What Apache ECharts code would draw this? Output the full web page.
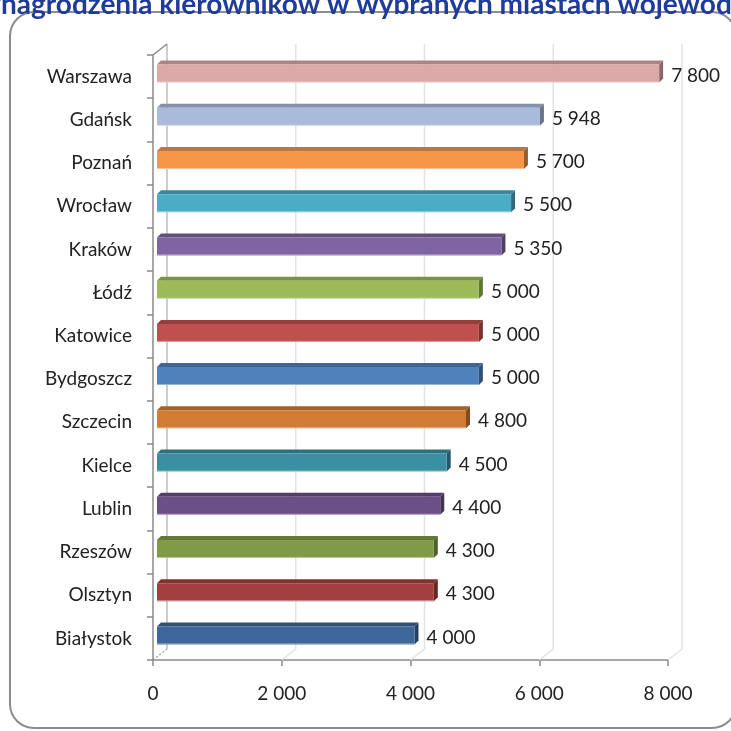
<!DOCTYPE html>
<html>
<head>
<meta charset="utf-8">
<script src="https://cdn.jsdelivr.net/npm/echarts@6/dist/echarts.min.js"></script>
<style>html,body{margin:0;padding:0;background:#fff;}#c{width:731px;height:731px;}</style>
</head>
<body>
<div id="c"></div>
<script>
// ---- data ----
const titleText = 'Wynagrodzenia kierowników w wybranych miastach wojewódzkich';
const cities = ['Warszawa','Gdańsk','Poznań','Wrocław','Kraków','Łódź','Katowice','Bydgoszcz','Szczecin','Kielce','Lublin','Rzeszów','Olsztyn','Białystok'];
const salaries = [7800,5948,5700,5500,5350,5000,5000,5000,4800,4500,4400,4300,4300,4000];
const xTicks = [0,2000,4000,6000,8000];

// ---- styles ----
const barColors = ['#dba9a8','#aabadb','#f79646','#4bacc6','#8064a2','#9bbb59','#c0504d','#4f81bd','#d27b34','#3a8fa3','#6b5088','#7f9b46','#a3403d','#3e6698'];
const FONT = 'Lato';
const FS = 19;
const TITLE_FS = 28;
const DX = 14, DY = -11;

function fmt(v){ return String(v).replace(/\B(?=(\d{3})+(?!\d))/g, ' '); }
function shade(hex, f){
  const n = parseInt(hex.slice(1),16);
  let r=(n>>16)&255,g=(n>>8)&255,b=n&255;
  r=Math.round(r*f);g=Math.round(g*f);b=Math.round(b*f);
  return 'rgb('+r+','+g+','+b+')';
}

const chart = echarts.init(document.getElementById('c'), null, {renderer:'canvas'});

// measure hidden prefix of title
const cv = document.createElement('canvas').getContext('2d');
cv.font = 'bold ' + TITLE_FS + 'px ' + FONT;
const prefixW = cv.measureText('Wy').width;

const option = {
  backgroundColor: '#ffffff',
  animation: false,
  graphic: [
    {type:'rect', shape:{x:10,y:12,width:726,height:716,r:24}, style:{fill:'none', stroke:'#8c8c8c', lineWidth:2}, z:-10},
    {type:'text', x: 1 - prefixW, y: 19, style:{text:titleText, font:'bold ' + TITLE_FS + 'px ' + FONT, fill:'#1f3c9a', verticalAlign:'bottom', align:'left'}, z:10}
  ],
  grid: {left:153, right:63, top:55, bottom:71, containLabel:false},
  xAxis: {
    type:'value', min:0, max:8000, interval:2000,
    axisLine:{show:true, lineStyle:{color:'#8a8a8a', width:1.5}},
    axisTick:{show:true, length:6, lineStyle:{color:'#8a8a8a', width:1.5}},
    splitLine:{show:false},
    axisLabel:{margin:24, color:'#222', fontFamily:FONT, fontSize:FS, formatter:function(v){return fmt(v);}}
  },
  yAxis: {
    type:'category', data:cities, inverse:true,
    axisLine:{show:true, lineStyle:{color:'#8a8a8a', width:1.5}},
    axisTick:{show:true, length:6, lineStyle:{color:'#8a8a8a', width:1.5}},
    axisLabel:{margin:21, color:'#222', fontFamily:FONT, fontSize:FS}
  },
  series: [
    {
      type:'custom', z:1, silent:true, clip:false,
      data: xTicks.map(function(v){ return [v, 0]; }),
      encode:{x:0, y:1},
      renderItem:function(params, api){
        const cs = params.coordSys;
        const v = api.value(0);
        const x = api.coord([v, 0])[0];
        const yb = cs.y + cs.height, yt = cs.y;
        const children = [];
        if (v === 0){
          children.push({type:'line', shape:{x1:x+DX,y1:yb+DY,x2:x+DX,y2:yt+DY}, style:{stroke:'#bdbdbd', lineWidth:1.5}});
          children.push({type:'line', shape:{x1:x,y1:yb,x2:x+DX,y2:yb+DY}, style:{stroke:'#9a9a9a', lineWidth:1.2, lineDash:[2,2]}});
          children.push({type:'line', shape:{x1:x,y1:yt,x2:x+DX,y2:yt+DY}, style:{stroke:'#8a8a8a', lineWidth:1.5}});
        } else {
          children.push({type:'polyline', shape:{points:[[x,yb],[x+DX,yb+DY],[x+DX,yt+DY]]}, style:{stroke:'#e3e3e3', lineWidth:1.5, fill:'none'}});
        }
        return {type:'group', children:children};
      }
    },
    {
      type:'custom', z:3, clip:false,
      data: cities.map(function(c, i){ return [salaries[i], i]; }),
      encode:{x:0, y:1},
      renderItem:function(params, api){
        const i = params.dataIndex;
        const v = api.value(0);
        const p0 = api.coord([0, api.value(1)]);
        const p1 = api.coord([v, api.value(1)]);
        const x0 = p0[0] + 4, x1 = p1[0] + 4;
        const yc = p0[1] - 3;
        const h = 18, d = 4;
        const yT = yc - h/2, yB = yc + h/2;
        const col = barColors[i];
        return {type:'group', children:[
          {type:'polygon', shape:{points:[[x0,yT],[x0+d,yT-d],[x1+d,yT-d],[x1,yT]]}, style:{fill:shade(col,0.78)}},
          {type:'polygon', shape:{points:[[x1,yT],[x1+d,yT-d],[x1+d,yB-d],[x1,yB]]}, style:{fill:shade(col,0.62)}},
          {type:'rect', shape:{x:x0,y:yT,width:x1-x0,height:h}, style:{fill:col}},
          {type:'line', shape:{x1:x0,y1:yB-0.5,x2:x1,y2:yB-0.5}, style:{stroke:'rgba(255,255,255,0.45)', lineWidth:1}},
          {type:'text', x:x1+d+8, y:yc+2, style:{text:fmt(v), font:FS + 'px ' + FONT, fill:'#222', verticalAlign:'middle', align:'left'}}
        ]};
      }
    }
  ]
};
chart.setOption(option);
</script>
</body>
</html>
